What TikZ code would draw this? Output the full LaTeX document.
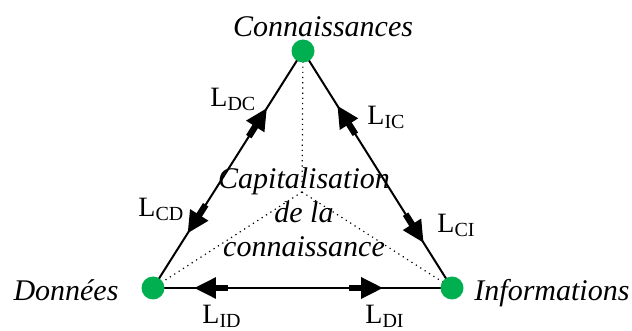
\documentclass[tikz,border=0pt]{standalone}
\usepackage{fontspec}
\setmainfont{Liberation Serif}
\usepackage{xcolor}
\usepackage{tikz}
\usetikzlibrary{arrows.meta,decorations.markings}
\definecolor{vertpoint}{RGB}{0,176,80}
\newcommand{\indice}[1]{\raisebox{-2pt}{\fontsize{10}{10}\selectfont #1}}
\tikzset{
  sommet/.style={circle,fill=vertpoint,minimum size=11.5pt,inner sep=0pt},
  arete/.style={line width=1pt,draw=black},
  pointille/.style={dotted,line width=0.6pt},
  titre/.style={font=\fontsize{15}{17}\selectfont\itshape,inner sep=0pt},
  lien/.style={font=\fontsize{14}{14}\selectfont,inner sep=0pt,anchor=base west},
  tete/.style={line width=3.2pt,-{Triangle[length=11pt,width=10pt]}},
  fleches/.style 2 args={postaction={decorate,decoration={markings,
      mark=at position #1 with {\draw[tete] (-17pt,0) -- (0,0);},
      mark=at position #2 with {\draw[tete] (17pt,0) -- (0,0);}}}}
}
\begin{document}
\begin{tikzpicture}[x=0.5pt,y=-0.5pt]
  \useasboundingbox (0,0) rectangle (632,331);
  \coordinate (c) at (303,51);
  \coordinate (d) at (153,288);
  \coordinate (i) at (452,288);
  \coordinate (m) at (302,192);
  % pointilles vers le centre
  \draw[pointille] (c) -- (m) (m) -- (d) (m) -- (i);
  % aretes du triangle
  \draw[arete,fleches={0.76}{0.23}] (d) -- (c);
  \draw[arete,fleches={0.77}{0.19}] (i) -- (c);
  \draw[arete,fleches={0.77}{0.137}] (d) -- (i);
  \node[sommet] (conn) at (c) {};
  \node[sommet] (donn) at (d) {};
  \node[sommet] (info) at (i) {};
  \node[titre,anchor=base] (tconn) at (323,37) {Connaissances};
  \node[titre,anchor=base] (tdonn) at (66,300) {Données};
  \node[titre,anchor=base] (tinfo) at (552,300) {Informations};
  \node[titre,align=center] (capi) at (304,212) {Capitalisation\\de la\\connaissance};
  \node[lien] (ldc) at (210,107) {L\indice{DC}};
  \node[lien] (lic) at (367,125) {L\indice{IC}};
  \node[lien] (lcd) at (138,217) {L\indice{CD}};
  \node[lien] (lci) at (437,233) {L\indice{CI}};
  \node[lien] (lid) at (202,323) {L\indice{ID}};
  \node[lien] (ldi) at (365,323) {L\indice{DI}};
\end{tikzpicture}
\end{document}
